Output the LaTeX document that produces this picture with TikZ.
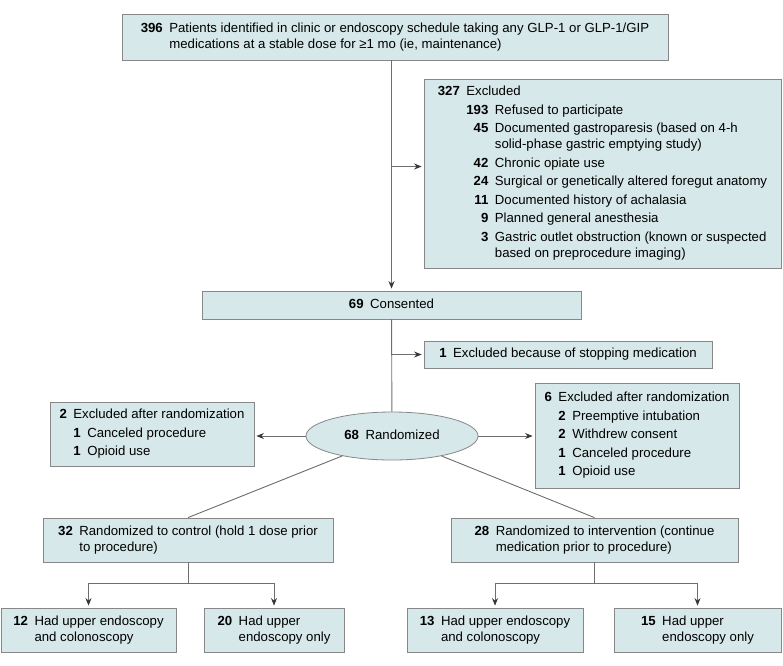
\documentclass[tikz,border=0pt]{standalone}
\usepackage{fontspec}
\setmainfont{Liberation Sans}
\usepackage{tikz}
\usetikzlibrary{shapes.geometric, arrows.meta, positioning}
\definecolor{boxfill}{RGB}{214,232,233}
\definecolor{boxline}{RGB}{135,135,135}
\definecolor{linkgray}{RGB}{110,110,110}
\definecolor{tipgray}{RGB}{55,55,55}
\tikzstyle{line}=[draw=linkgray, line width=0.9pt]
\tikzstyle{arrow}=[draw=linkgray, line width=0.9pt, -{Stealth[length=7.5pt,width=6pt,color=tipgray]}, shorten >=2pt]
\newcommand{\ntab}[1]{\begin{tabular}{@{}r@{\hspace{6.5pt}}l@{}}#1\end{tabular}}
\newcommand{\nlist}[1]{\begin{tabular}{@{}r@{\hspace{6.5pt}}r@{\hspace{6.5pt}}l@{}}#1\end{tabular}}

\begin{document}
\begin{tikzpicture}[
  x=1pt, y=-1pt,
  font=\fontsize{13.2}{16}\selectfont,
  box/.style={rectangle, draw=boxline, fill=boxfill, line width=0.8pt, inner sep=0pt, align=center},
  oval/.style={ellipse, draw=boxline, fill=boxfill, line width=0.8pt, inner sep=0pt}]
\useasboundingbox (0,0) rectangle (783,665);
\node[box, minimum width=546pt, minimum height=46pt] (top) at (395,37) {\ntab{\textbf{396} & Patients identified in clinic or endoscopy schedule taking any GLP-1 or GLP-1/GIP\\ & medications at a stable dose for ≥1 mo (ie, maintenance)}};
\node[box, minimum width=357pt, minimum height=189pt] (excl1) at (602.5,173.5) {\nlist{\textbf{327} & \multicolumn{2}{@{}l@{}}{Excluded}\\[2.5pt]
  & \textbf{193} & Refused to participate\\[2.5pt]
  & \textbf{45} & Documented gastroparesis (based on 4-h\\
  & & solid-phase gastric emptying study)\\[2.5pt]
  & \textbf{42} & Chronic opiate use\\[2.5pt]
  & \textbf{24} & Surgical or genetically altered foregut anatomy\\[2.5pt]
  & \textbf{11} & Documented history of achalasia\\[2.5pt]
  & \textbf{9} & Planned general anesthesia\\[2.5pt]
  & \textbf{3} & Gastric outlet obstruction (known or suspected\\
  & & based on preprocedure imaging)}};
\node[box, minimum width=379pt, minimum height=28pt] (cons) at (391.5,305) {\ntab{\textbf{69} & Consented}};
\node[box, minimum width=288pt, minimum height=27pt] (excl2) at (568,354.5) {\ntab{\textbf{1} & Excluded because of stopping medication}};
\node[oval, minimum width=172pt, minimum height=48pt] (rand) at (392,436) {\ntab{\textbf{68} & Randomized}};
\node[box, minimum width=204pt, minimum height=64pt] (excl3) at (152,434) {\nlist{\textbf{2} & \multicolumn{2}{@{}l@{}}{Excluded after randomization}\\[2.5pt]
  & \textbf{1} & Canceled procedure\\[2.5pt]
  & \textbf{1} & Opioid use}};
\node[box, minimum width=204pt, minimum height=105pt] (excl4) at (637,435.5) {\nlist{\textbf{6} & \multicolumn{2}{@{}l@{}}{Excluded after randomization}\\[2.5pt]
  & \textbf{2} & Preemptive intubation\\[2.5pt]
  & \textbf{2} & Withdrew consent\\[2.5pt]
  & \textbf{1} & Canceled procedure\\[2.5pt]
  & \textbf{1} & Opioid use}};
\node[box, minimum width=290pt, minimum height=44pt] (ctrl) at (188,540) {\ntab{\textbf{32} & Randomized to control (hold 1 dose prior\\ & to procedure)}};
\node[box, minimum width=287pt, minimum height=44pt] (intv) at (594.5,540) {\ntab{\textbf{28} & Randomized to intervention (continue\\ & medication prior to procedure)}};
\node[box, minimum width=175pt, minimum height=44pt] (c1) at (88.5,630) {\ntab{\textbf{12} & Had upper endoscopy\\ & and colonoscopy}};
\node[box, minimum width=140pt, minimum height=44pt] (c2) at (274,630) {\ntab{\textbf{20} & Had upper\\ & endoscopy only}};
\node[box, minimum width=176pt, minimum height=44pt] (v1) at (495,630) {\ntab{\textbf{13} & Had upper endoscopy\\ & and colonoscopy}};
\node[box, minimum width=167pt, minimum height=44pt] (v2) at (697.5,630) {\ntab{\textbf{15} & Had upper\\ & endoscopy only}};
% screening and consent
\coordinate (e1in) at ([yshift=7pt]excl1.west);
\draw[arrow] (cons.north |- top.south) -- (cons.north);
\draw[arrow] (e1in -| cons.north) -- (e1in);
\draw[line] (cons) -- (rand);
\draw[arrow] (excl2.west -| cons.south) -- (excl2.west);
% randomization
\draw[arrow] (rand.west) -- (rand.west -| excl3.east);
\draw[arrow] (rand.east) -- (rand.east -| excl4.west);
\draw[line] (rand) -- (ctrl.north);
\draw[line] (rand) -- (intv.north);
% procedures
\path (ctrl.south) ++(0,21) coordinate (cj);
\path (intv.south) ++(0,21) coordinate (vj);
\draw[line] (ctrl.south) -- (cj);
\draw[arrow] (cj) -| (c1.north);
\draw[arrow] (cj) -| (c2.north);
\draw[line] (intv.south) -- (vj);
\draw[arrow] (vj) -| (v1.north);
\draw[arrow] (vj) -| (v2.north);
\end{tikzpicture}
\end{document}
